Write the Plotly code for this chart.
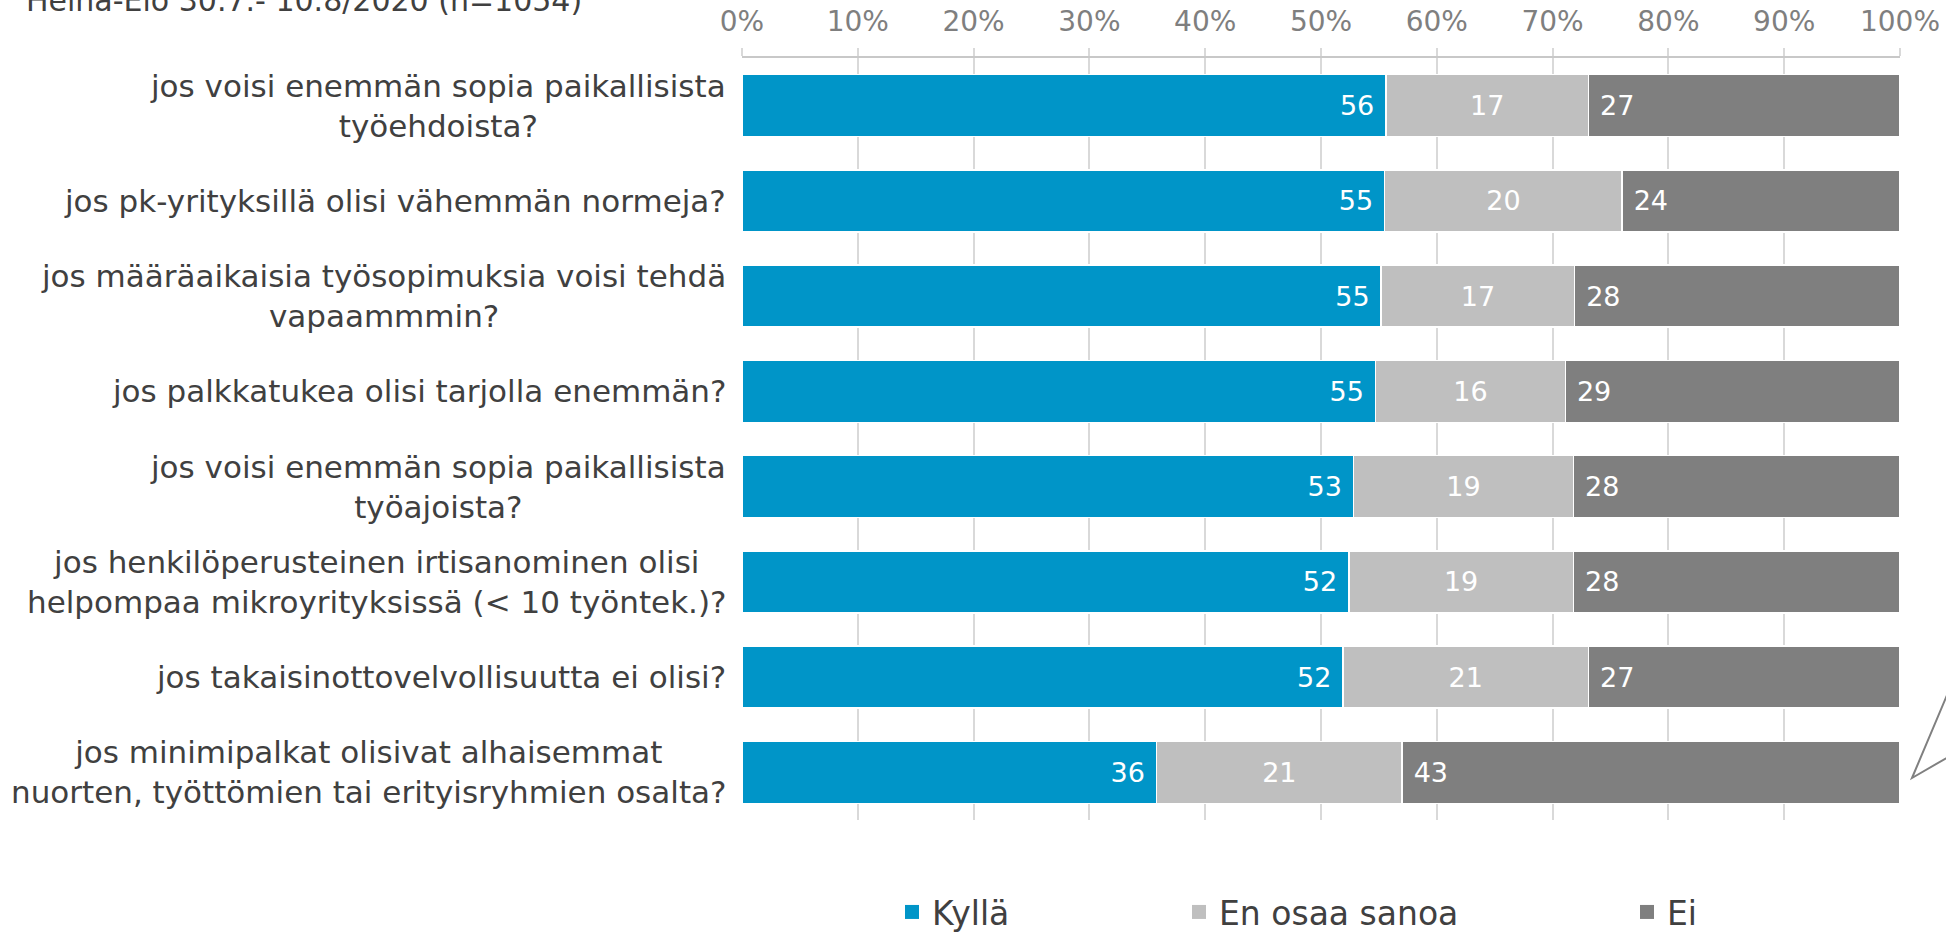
import plotly.graph_objects as go

categories = [
    "jos voisi enemmän sopia paikallisista<br>työehdoista?",
    "jos pk-yrityksillä olisi vähemmän normeja?",
    "jos määräaikaisia työsopimuksia voisi tehdä<br>vapaammmin?",
    "jos palkkatukea olisi tarjolla enemmän?",
    "jos voisi enemmän sopia paikallisista<br>työajoista?",
    "jos henkilöperusteinen irtisanominen olisi<br>helpompaa mikroyrityksissä (&lt; 10 työntek.)?",
    "jos takaisinottovelvollisuutta ei olisi?",
    "jos minimipalkat olisivat alhaisemmat<br>nuorten, työttömien tai erityisryhmien osalta?",
]

kylla = [55.6, 55.5, 55.2, 54.7, 52.8, 52.4, 51.9, 35.8]
en_osaa = [17.5, 20.5, 16.7, 16.4, 19.0, 19.4, 21.2, 21.2]
ei = [26.9, 24.0, 28.1, 28.9, 28.2, 28.2, 26.9, 43.0]

kylla_labels = [56, 55, 55, 55, 53, 52, 52, 36]
en_osaa_labels = [17, 20, 17, 16, 19, 19, 21, 21]
ei_labels = [27, 24, 28, 29, 28, 28, 27, 43]

series_names = ["Kyllä", "En osaa sanoa", "Ei"]
colors = ["#0095C8", "#BFBFBF", "#7F7F7F"]

x_ticks = list(range(0, 101, 10))
x_tick_text = [f"{t}%" for t in x_ticks]

source_text = "Heinä-Elo 30.7.- 10.8/2020 (n=1054)"

FONT = "DejaVu Sans"
W, H = 1946, 932
L, R, T, B = 742, 46, 58, 112
pw, ph = W - L - R, H - T - B

def px_x(px):
    return (px - L) / pw

def px_y(py):
    return (H - B - py) / ph

fig = go.Figure()
specs = [
    (kylla, kylla_labels, "end", "%{text}\u00a0", "legend"),
    (en_osaa, en_osaa_labels, "middle", "%{text}", "legend2"),
    (ei, ei_labels, "start", "\u00a0%{text}", "legend3"),
]
for (vals, labs, anchor, tmpl, leg), name, col in zip(specs, series_names, colors):
    fig.add_trace(go.Bar(
        y=categories, x=vals, orientation="h", name=name,
        marker=dict(color=col, line=dict(color="white", width=1.5)),
        text=labs, texttemplate=tmpl, textposition="inside",
        insidetextanchor=anchor,
        insidetextfont=dict(family=FONT, size=27, color="white"),
        showlegend=False, hoverinfo="skip",
    ))
    # legend entry with a larger square swatch
    fig.add_trace(go.Scatter(
        x=[None], y=[None], mode="markers", name=name,
        marker=dict(symbol="square", size=14, color=col),
        legend=leg, showlegend=True,
    ))

for cat in categories:
    fig.add_annotation(
        x=0, xref="paper", y=cat, yref="y", text=cat,
        xanchor="right", yanchor="middle", align="center", xshift=-14,
        showarrow=False, font=dict(family=FONT, size=31, color="#404040"),
    )

fig.add_annotation(
    x=px_x(24), xref="paper", y=px_y(20), yref="paper", text=source_text,
    xanchor="left", yanchor="bottom", showarrow=False,
    font=dict(family=FONT, size=30, color="#404040"),
)

fig.add_shape(
    type="path", xref="paper", yref="paper",
    path=f"M {px_x(1950)} {px_y(688)} L {px_x(1912)} {px_y(778)} L {px_x(1950)} {px_y(756)}",
    line=dict(color="#808080", width=2),
)

leg_common = dict(orientation="h", xref="paper", yref="paper",
                  xanchor="left", yanchor="top",
                  font=dict(family=FONT, size=33, color="#404040"),
                  bgcolor="rgba(0,0,0,0)", borderwidth=0)
ly = px_y(884)
fig.update_layout(
    width=W, height=H,
    margin=dict(l=L, r=R, t=T, b=B, autoexpand=False),
    barmode="stack", bargap=0.35, showlegend=True,
    plot_bgcolor="white", paper_bgcolor="white",
    font=dict(family=FONT, color="#404040"),
    legend=dict(x=px_x(912 - 20), y=ly, **leg_common),
    legend2=dict(x=px_x(1199 - 20), y=ly, **leg_common),
    legend3=dict(x=px_x(1647 - 20), y=ly, **leg_common),
    xaxis=dict(
        side="top", range=[0, 100], tickvals=x_ticks, ticktext=x_tick_text,
        showgrid=True, gridcolor="#D9D9D9", gridwidth=2,
        showline=True, linecolor="#C8C8C8", linewidth=2,
        ticks="outside", ticklen=8, tickcolor="#D9D9D9", tickwidth=2,
        zeroline=False, tickfont=dict(family=FONT, size=28, color="#7F7F7F"),
        automargin=False, ticklabelstandoff=6,
    ),
    yaxis=dict(autorange="reversed", showticklabels=False, showgrid=False,
               zeroline=False, showline=False, ticks="", automargin=False),
)

fig.write_html("out.html", config={"displayModeBar": False},
               post_script="document.body.style.margin='0';")
